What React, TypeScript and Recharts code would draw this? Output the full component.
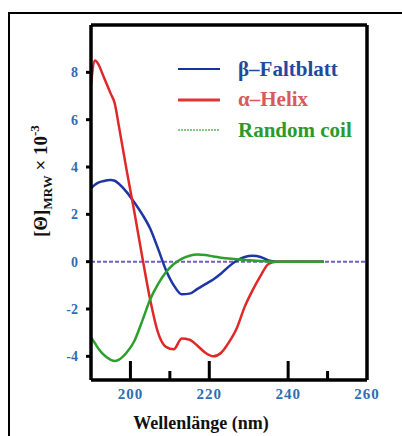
import React from 'react';
import {
  LineChart,
  Line,
  XAxis,
  YAxis,
  ReferenceLine,
} from 'recharts';

// wavelength grid (nm) shared by all three spectra
const wavelengths = [
  190, 191, 192, 193, 195, 196, 197, 199, 201, 203, 205, 207, 209, 211, 213,
  215, 217, 219, 221, 223, 225, 227, 229, 231, 233, 235, 237, 240, 245, 249,
];

const betaSheet = [
  3.1, 3.25, 3.35, 3.4, 3.45, 3.42, 3.3, 2.95, 2.5, 2.0, 1.4, 0.55, -0.35,
  -1.0, -1.38, -1.35, -1.15, -0.95, -0.75, -0.5, -0.2, 0.05, 0.2, 0.25, 0.2,
  0.05, 0, 0, 0, 0,
];

const alphaHelix = [
  7.5, 8.5, 8.3, 7.9, 7.1, 6.7, 5.8, 3.9, 2.1, 0.2, -1.6, -3.0, -3.6, -3.7,
  -3.25, -3.3, -3.55, -3.85, -4.0, -3.85, -3.4, -2.8, -1.9, -1.2, -0.6, -0.1,
  0, 0, 0, 0,
];

const randomCoil = [
  -3.2, -3.45, -3.7, -3.9, -4.15, -4.2, -4.15, -3.85, -3.35, -2.5, -1.6,
  -0.95, -0.45, -0.1, 0.12, 0.25, 0.3, 0.28, 0.22, 0.17, 0.13, 0.1, 0.07,
  0.05, 0.03, 0.01, 0, 0, 0, 0,
];

const xTicks = [200, 210, 220, 240, 250, 260];
const xLabelled = [200, 220, 240, 260];
const yTicks = [-4, -2, 0, 2, 4, 6, 8];

const legendItems = [
  { name: 'β–Faltblatt', line: '#1a2fa0', text: '#1f4aa0', width: 2, dash: '' },
  { name: 'α–Helix', line: '#e03535', text: '#d85a5a', width: 3, dash: '' },
  { name: 'Random coil', line: '#5cb85c', text: '#2a9a2a', width: 1.5, dash: '2 1' },
];

const data = wavelengths.map((nm, i) => ({
  nm,
  beta: betaSheet[i],
  alpha: alphaHelix[i],
  coil: randomCoil[i],
}));

const serif = '"Liberation Serif", "Times New Roman", serif';
const tickBlue = '#2f6cb3';

// x ticks point into the plot; 210 and 250 are short unlabelled marks
// (y arrives 2px below the axis line because of the default tickMargin)
const XTick = ({ x, y, payload }: any) => {
  const v = payload.value;
  const len = v % 20 === 0 ? 19 : 9;
  return (
    <g>
      {v < 260 && <rect x={x - 1.5} y={y - 2 - len} width={3} height={len} fill="#000" />}
      {xLabelled.includes(v) && (
        <text
          x={x}
          y={y + 17}
          textAnchor="middle"
          fill={tickBlue}
          fontFamily={serif}
          fontWeight="bold"
          fontSize={15}
          letterSpacing={1}
        >
          {v}
        </text>
      )}
    </g>
  );
};

const YLabel = () => (
  <text
    x={47}
    y={237}
    transform="rotate(-90 47 237)"
    textAnchor="start"
    fontFamily={serif}
    fontWeight="bold"
    fontSize={19}
    fill="#111"
  >
    [Θ]
    <tspan dy={5} fontSize={13}>MRW</tspan>
    <tspan dy={-5}> × 10</tspan>
    <tspan dy={-8} fontSize={13}>-3</tspan>
  </text>
);

const XLabel = () => (
  <text x={201} y={429} textAnchor="middle" fontFamily={serif} fontWeight="bold" fontSize={18} fill="#111">
    Wellenlänge (nm)
  </text>
);

const ChartLegend = () => (
  <div
    style={{
      position: 'absolute',
      left: 178,
      top: 54,
      fontFamily: serif,
      fontWeight: 'bold',
      fontSize: 21,
    }}
  >
    {legendItems.map((item) => (
      <div key={item.name} style={{ display: 'flex', alignItems: 'center', height: 30.5 }}>
        <svg width={42} height={6} style={{ marginRight: 18 }}>
          <line
            x1={0}
            x2={42}
            y1={3}
            y2={3}
            stroke={item.line}
            strokeWidth={item.width}
            strokeDasharray={item.dash}
          />
        </svg>
        <span style={{ color: item.text }}>{item.name}</span>
      </div>
    ))}
  </div>
);

export default function App() {
  return (
    <div style={{ position: 'absolute', left: 0, top: 0, width: 402, height: 436, background: '#fff' }}>
      <div
        style={{
          position: 'absolute',
          left: 8,
          top: 12,
          width: 402,
          height: 430,
          borderTop: '2px solid #000',
          borderLeft: '2px solid #000',
        }}
      />
      <div style={{ position: 'absolute', left: 0, top: 0 }}>
        <LineChart width={402} height={436} data={data} margin={{ top: 25, right: 35, bottom: 0, left: 0 }}>
          <XAxis
            dataKey="nm"
            type="number"
            domain={[190, 260]}
            ticks={xTicks}
            tick={<XTick />}
            tickSize={0}
            height={56}
            axisLine={{ stroke: '#000', strokeWidth: 3.5 }}
            interval={0}
            label={<XLabel />}
          />
          <YAxis
            type="number"
            domain={[-5, 10]}
            ticks={yTicks}
            width={91}
            interval={0}
            tickSize={5}
            tickMargin={8}
            tickLine={{ stroke: '#000', strokeWidth: 3 }}
            axisLine={{ stroke: '#000', strokeWidth: 3.5 }}
            tick={{ fill: tickBlue, fontFamily: serif, fontWeight: 'bold', fontSize: 14 }}
            label={<YLabel />}
          />
          {/* frame: top and right edges of the plot box */}
          <ReferenceLine y={10} stroke="#000" strokeWidth={3.5} />
          <ReferenceLine x={260} stroke="#000" strokeWidth={3.5} />
          <ReferenceLine y={0} stroke="#6f5fbf" strokeWidth={2} strokeDasharray="4 2" />
          <Line type="monotone" dataKey="beta" stroke="#1e35a5" strokeWidth={2.5} dot={false} isAnimationActive={false} />
          <Line type="monotone" dataKey="alpha" stroke="#e02828" strokeWidth={2.5} dot={false} isAnimationActive={false} />
          <Line type="monotone" dataKey="coil" stroke="#2ca02c" strokeWidth={2.5} dot={false} isAnimationActive={false} />
        </LineChart>
      </div>
      <ChartLegend />
    </div>
  );
}
